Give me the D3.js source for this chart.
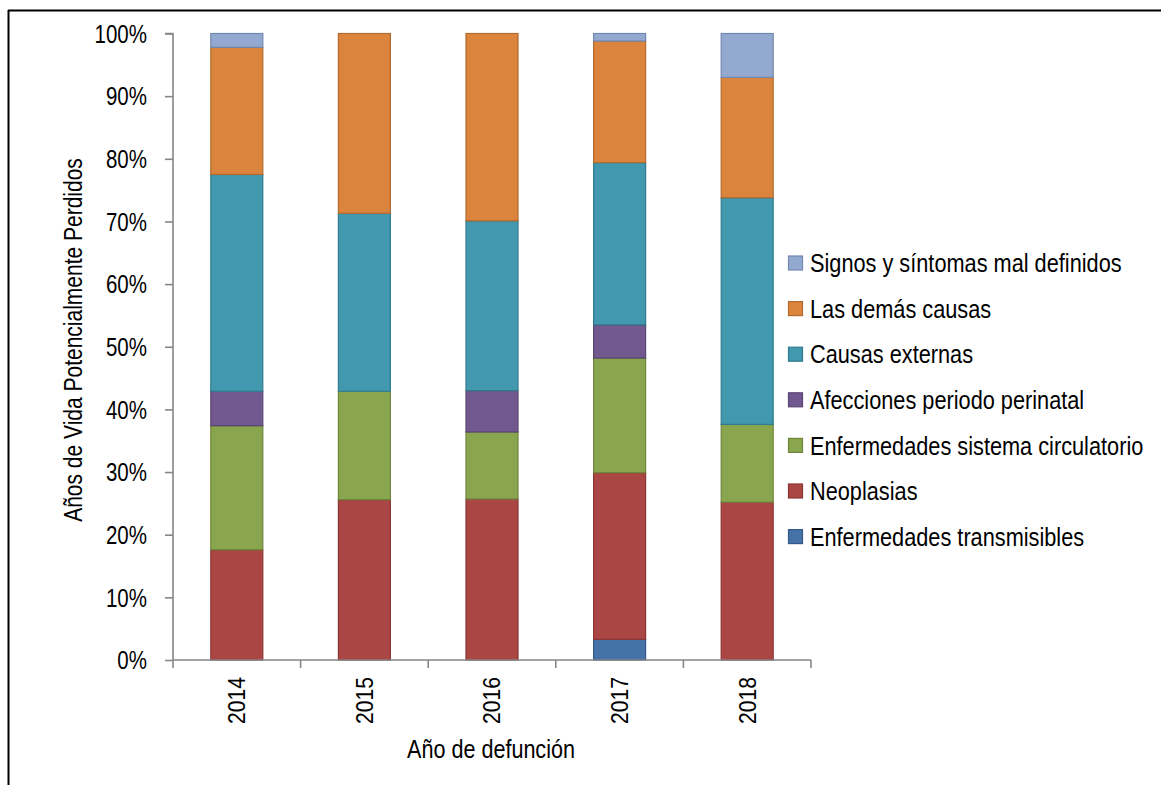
<!DOCTYPE html>
<html>
<head>
<meta charset="utf-8">
<script src="https://cdn.jsdelivr.net/npm/d3@7"></script>
<style>
  html, body { margin: 0; padding: 0; background: #fff; }
  svg { display: block; font-family: "Liberation Sans", Arial, sans-serif; }
</style>
</head>
<body>
<svg id="chart" width="1161" height="785"></svg>
<script>
// Años de defunción
const years = ["2014", "2015", "2016", "2017", "2018"];

// Grupos de causas (orden de apilado, de abajo hacia arriba)
const causes = [
  "Enfermedades transmisibles",
  "Neoplasias",
  "Enfermedades sistema circulatorio",
  "Afecciones periodo perinatal",
  "Causas externas",
  "Las demás causas",
  "Signos y síntomas mal definidos"
];

// Porcentaje de AVPP por grupo, un valor por año
const transmisibles = [0.0, 0.0, 0.0, 3.3, 0.0];
const neoplasias    = [17.6, 25.6, 25.7, 26.6, 25.2];
const circulatorio  = [19.8, 17.3, 10.7, 18.3, 12.4];
const perinatal     = [5.5, 0.0, 6.6, 5.3, 0.0];
const externas      = [34.6, 28.4, 27.1, 25.9, 36.2];
const demas         = [20.3, 28.7, 29.9, 19.4, 19.2];
const signos        = [2.2, 0.0, 0.0, 1.2, 7.0];

const yTicks = [0, 10, 20, 30, 40, 50, 60, 70, 80, 90, 100];

const seriesValues = [transmisibles, neoplasias, circulatorio, perinatal, externas, demas, signos];

const fills   = ["#4572A7", "#AA4643", "#89A54E", "#71588F", "#4198AF", "#DB843D", "#93A9CF"];
const strokes = ["#37598A", "#8A3634", "#6E863C", "#5A4573", "#317B8E", "#B36A2E", "#7288B1"];

const rows = years.map((yr, i) => {
  const r = { year: yr };
  causes.forEach((c, j) => { r[c] = seriesValues[j][i]; });
  return r;
});

const svg = d3.select("#chart");

// Marco exterior
svg.append("line").attr("x1", 8).attr("x2", 1161).attr("y1", 10.5).attr("y2", 10.5)
  .attr("stroke", "#000").attr("stroke-width", 2);
svg.append("line").attr("x1", 8.5).attr("x2", 8.5).attr("y1", 10).attr("y2", 785)
  .attr("stroke", "#000").attr("stroke-width", 2);

const plotLeft = 173, plotRight = 811, plotTop = 33.5, plotBottom = 660;

const x = d3.scaleBand().domain(years).range([plotLeft, plotRight])
  .paddingInner(0.5925).paddingOuter(0.29625);
const y = d3.scaleLinear().domain([0, 100]).range([plotBottom, plotTop]);

// Barras apiladas
const stack = d3.stack().keys(causes);
const layers = stack(rows);

const g = svg.append("g");
layers.forEach((layer, j) => {
  g.selectAll(null)
    .data(layer.filter(d => d[1] - d[0] > 0))
    .join("rect")
    .attr("x", d => x(d.data.year))
    .attr("width", x.bandwidth())
    .attr("y", d => y(d[1]))
    .attr("height", d => y(d[0]) - y(d[1]))
    .attr("fill", fills[j])
    .attr("stroke", strokes[j])
    .attr("stroke-width", 1.2);
});

// Eje Y
const yAxis = d3.axisLeft(y).tickValues(yTicks).tickFormat(d => d + "%")
  .tickSize(8).tickPadding(18);
const gy = svg.append("g").attr("transform", `translate(${plotLeft},0)`).call(yAxis);
gy.select(".domain").attr("stroke", "#868686").attr("stroke-width", 1.6)
  .attr("d", `M-8,${y(100)}H0V${y(0)}`);
gy.selectAll(".tick line").attr("stroke", "#868686").attr("stroke-width", 1.6);
gy.selectAll(".tick text")
  .attr("x", null)
  .attr("transform", "translate(-26,0) scale(0.82,1)")
  .attr("font-size", 25).attr("fill", "#000")
  .attr("font-family", "Liberation Sans, Arial, sans-serif")
  .attr("dy", "0.35em");

// Eje X con marcas entre categorías
const step = x.step();
const boundaries = d3.range(years.length + 1).map(i => plotLeft + i * step);
const gx = svg.append("g");
gx.append("line").attr("x1", plotLeft).attr("x2", plotRight).attr("y1", plotBottom).attr("y2", plotBottom)
  .attr("stroke", "#868686").attr("stroke-width", 1.6);
gx.selectAll(".xt").data(boundaries).join("line")
  .attr("x1", d => d).attr("x2", d => d).attr("y1", plotBottom).attr("y2", plotBottom + 8)
  .attr("stroke", "#868686").attr("stroke-width", 1.6);
gx.selectAll(".xl").data(years).join("text")
  .attr("transform", d => `translate(${x(d) + x.bandwidth() / 2},677) rotate(-90) scale(0.88,1)`)
  .attr("text-anchor", "end")
  .attr("dy", "0.35em")
  .attr("font-size", 24)
  .attr("fill", "#000")
  .text(d => d);

// Títulos de ejes
svg.append("text")
  .attr("transform", "translate(491,758) scale(0.83,1)")
  .attr("text-anchor", "middle")
  .attr("font-size", 26)
  .attr("fill", "#000")
  .text("Año de defunción");

svg.append("text")
  .attr("transform", "translate(73,340) rotate(-90) scale(0.84,1)")
  .attr("text-anchor", "middle")
  .attr("dy", "0.35em")
  .attr("font-size", 25)
  .attr("fill", "#000")
  .text("Años de Vida Potencialmente Perdidos");

// Leyenda (orden inverso al apilado)
const legendOrder = causes.map((c, j) => ({ c, j })).reverse();
const lg = svg.append("g");
const leg = lg.selectAll("g").data(legendOrder).join("g")
  .attr("transform", (d, i) => `translate(788,${263 + i * 45.6})`);
leg.append("rect")
  .attr("x", 0.5).attr("y", -7).attr("width", 14).attr("height", 14)
  .attr("fill", d => fills[d.j]).attr("stroke", d => strokes[d.j]).attr("stroke-width", 1.2);
leg.append("text")
  .attr("transform", "translate(22,0) scale(0.836,1)")
  .attr("dy", "0.35em")
  .attr("font-size", 26)
  .attr("fill", "#000")
  .text(d => d.c);
</script>
</body>
</html>
